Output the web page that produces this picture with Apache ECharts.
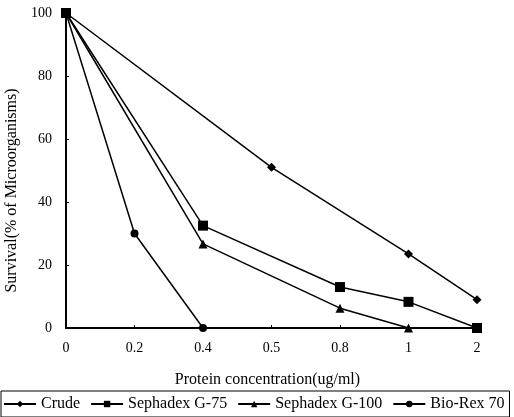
<!DOCTYPE html>
<html>
<head>
<meta charset="utf-8">
<script src="https://cdn.jsdelivr.net/npm/echarts@6/dist/echarts.min.js"></script>
<style>
  html, body { margin: 0; padding: 0; background: #fff; }
  #container { width: 514px; height: 417px; }
</style>
</head>
<body>
<div id="container"></div>
<script>
// x categories (protein concentration, ug/ml)
const concentrations = ['0', '0.2', '0.4', '0.5', '0.8', '1', '2'];
// survival values (%), null = not measured
const crude = [100, null, null, 51, null, 23.5, 9];
const sephadexG75 = [100, null, 32.5, null, 13, 8.3, 0];
const sephadexG100 = [100, null, 26.7, null, 6.3, 0, 0];
const bioRex70 = [100, 30, 0, null, null, null, null];

const font = 'Liberation Serif';
let myChart = echarts.init(document.getElementById('container'), null);

function lineSeries(name, data, symbol, size) {
  return {
    name,
    type: 'line',
    data,
    symbol,
    symbolSize: size,
    connectNulls: true,
    showAllSymbol: true,
    lineStyle: { color: '#000', width: 1.5 },
    itemStyle: { color: '#000' }
  };
}

let option = {
  animation: false,
  textStyle: { fontFamily: font, color: '#000' },
  grid: { left: 66, right: 37, top: 13, bottom: 89, outerBoundsMode: 'none' },
  legend: {
    left: 1,
    bottom: 0,
    padding: [5, 5, 5, 2],
    borderColor: '#000',
    borderWidth: 1,
    itemGap: 10,
    itemWidth: 32,
    itemHeight: 8,
    textStyle: { fontFamily: font, fontSize: 16, color: '#000' },
    data: ['Crude', 'Sephadex G-75', 'Sephadex G-100', 'Bio-Rex 70']
  },
  xAxis: {
    type: 'category',
    data: concentrations,
    boundaryGap: false,
    name: 'Protein concentration(ug/ml)',
    nameLocation: 'middle',
    nameGap: 44,
    nameTextStyle: { fontFamily: font, fontSize: 16, color: '#000', padding: [0, 8, 0, 0] },
    axisLine: { lineStyle: { color: '#000', width: 2 } },
    axisTick: { inside: true, length: 3, lineStyle: { color: '#000' } },
    axisLabel: { fontFamily: font, fontSize: 14, color: '#000', margin: 13 },
    splitLine: { show: false }
  },
  yAxis: {
    type: 'value',
    min: 0,
    max: 100,
    interval: 20,
    name: 'Survival(% of Microorganisms)',
    nameLocation: 'middle',
    nameGap: 41,
    nameTextStyle: { fontFamily: font, fontSize: 16, color: '#000', padding: [0, 40, 0, 0] },
    axisLine: { show: true, lineStyle: { color: '#000', width: 2 } },
    axisTick: { show: true, inside: true, length: 3, lineStyle: { color: '#000' } },
    axisLabel: { fontFamily: font, fontSize: 14, color: '#000', margin: 14 },
    splitLine: { show: false }
  },
  series: [
    lineSeries('Crude', crude, 'diamond', 9),
    lineSeries('Sephadex G-75', sephadexG75, 'rect', 10),
    lineSeries('Sephadex G-100', sephadexG100, 'triangle', 9),
    lineSeries('Bio-Rex 70', bioRex70, 'circle', 8)
  ]
};
myChart.setOption(option);
</script>
</body>
</html>
